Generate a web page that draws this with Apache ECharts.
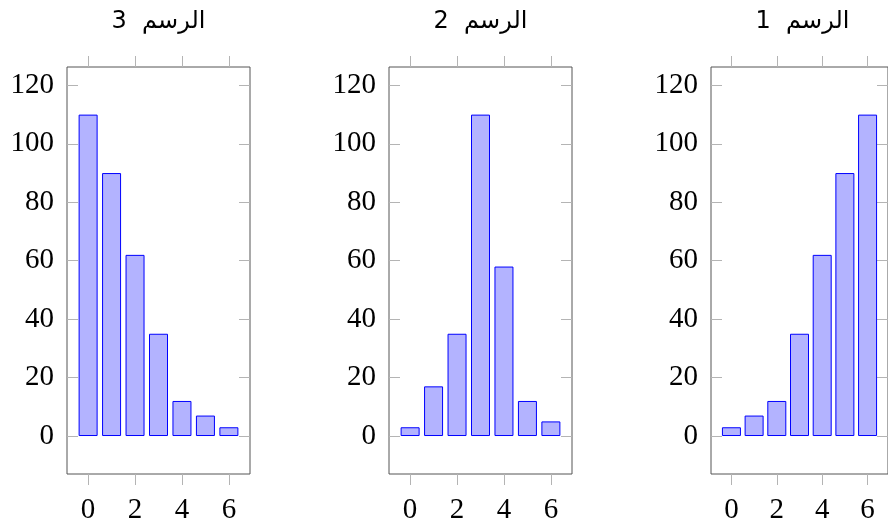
<!DOCTYPE html>
<html>
<head>
<meta charset="utf-8">
<script src="https://cdn.jsdelivr.net/npm/echarts@6/dist/echarts.min.js"></script>
<style>
  html, body { margin: 0; padding: 0; background: #fff; }
  #main { width: 888px; height: 525px; }
</style>
</head>
<body>
<div id="main"></div>
<script>
// data
var categories = [0, 1, 2, 3, 4, 5, 6];
var titles = ['الرسم 3', 'الرسم 2', 'الرسم 1'];
var values3 = [110, 90, 62, 35, 12, 7, 3];
var values2 = [3, 17, 35, 110, 58, 12, 5];
var values1 = [3, 7, 12, 35, 62, 90, 110];
var xTicks = [0, 2, 4, 6];
var yTicks = [0, 20, 40, 60, 80, 100, 120];

var panels = [values3, values2, values1];
var gridLefts = [67, 389, 711];
var gridWidth = 183;
var tickColor = '#b4b4b4';
var labelFont = { fontFamily: 'Liberation Serif', fontSize: 29, color: '#000' };

// the renderer draws runs left to right, so put the number first (visual rtl order)
function rtlTitle(t) {
    var parts = t.split(' ');
    return parts[1] + '  ' + parts[0];
}

var option = {
    animation: false,
    title: [],
    grid: [],
    xAxis: [],
    yAxis: [],
    series: []
};

panels.forEach(function (vals, i) {
    option.title.push({
        text: rtlTitle(titles[i]),
        left: gridLefts[i] + gridWidth / 2,
        top: 10,
        padding: 0,
        textAlign: 'center',
        textStyle: { fontFamily: 'DejaVu Sans', fontSize: 24, fontWeight: 'normal', color: '#000' }
    });
    option.grid.push({
        left: gridLefts[i], top: 67, width: gridWidth, height: 410,
        show: true, borderColor: '#555', borderWidth: 1, backgroundColor: 'transparent'
    });
    // bottom / top x axes
    ['bottom', 'top'].forEach(function (pos) {
        option.xAxis.push({
            type: 'value', gridIndex: i, position: pos,
            min: -0.9, max: 6.9,
            axisLine: { show: false, onZero: false },
            splitLine: { show: false },
            axisTick: { customValues: xTicks, length: 11, lineStyle: { color: tickColor } },
            axisLabel: Object.assign({ show: pos === 'bottom', customValues: xTicks, margin: 22 }, labelFont)
        });
    });
    // left / right y axes
    ['left', 'right'].forEach(function (pos) {
        option.yAxis.push({
            type: 'value', gridIndex: i, position: pos,
            min: -13, max: 126.3,
            axisLine: { show: false, onZero: false },
            splitLine: { show: false },
            axisTick: { inside: true, customValues: yTicks, length: 11, lineStyle: { color: tickColor } },
            axisLabel: Object.assign({ show: pos === 'left', customValues: yTicks, margin: 13 }, labelFont)
        });
    });
    option.series.push({
        type: 'bar',
        xAxisIndex: i * 2,
        yAxisIndex: i * 2,
        barWidth: 19,
        data: categories.map(function (c, k) { return [c, vals[k]]; }),
        itemStyle: { color: '#b3b3ff', borderColor: '#0000ff', borderWidth: 1 }
    });
});

var myChart = echarts.init(document.getElementById('main'));
myChart.setOption(option);
window.addEventListener('resize', function () {
    myChart.resize();
});
</script>
</body>
</html>
